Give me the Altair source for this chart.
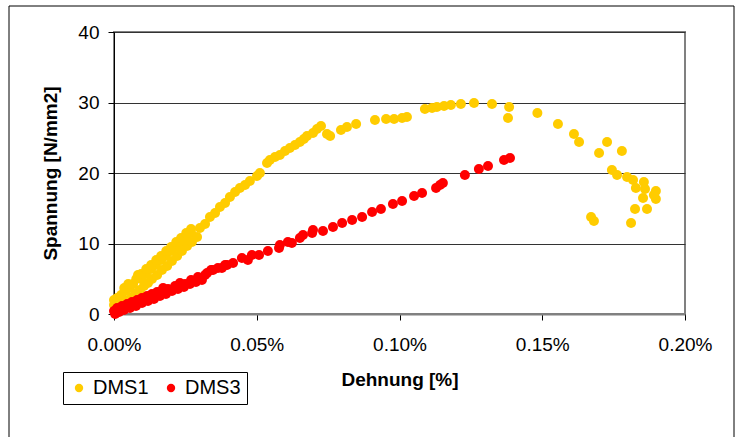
import altair as alt
import pandas as pd

# DMS1 (yellow) strain [%] and stress [N/mm2]
dms1_x = [0.0000, 0.0000, 0.0011, 0.0025, 0.0039, 0.0053, 0.0067, 0.0084, 0.0095, 0.0112,
          0.0130, 0.0147, 0.0165, 0.0182, 0.0200, 0.0217, 0.0235, 0.0252, 0.0270,
          0.0011, 0.0021, 0.0035, 0.0049, 0.0063, 0.0077, 0.0091, 0.0105, 0.0119, 0.0133,
          0.0151, 0.0168, 0.0186, 0.0203, 0.0221, 0.0238, 0.0256, 0.0273, 0.0291,
          0.0036, 0.0050, 0.0078, 0.0095, 0.0113, 0.0130, 0.0148, 0.0165, 0.0183, 0.0200,
          0.0218, 0.0235, 0.0253, 0.0270,
          0.0301, 0.0319, 0.0336, 0.0354, 0.0371, 0.0389, 0.0406, 0.0424, 0.0441, 0.0459,
          0.0476, 0.0501, 0.0511, 0.0536, 0.0546, 0.0564, 0.0581, 0.0599, 0.0616, 0.0634,
          0.0651, 0.0665, 0.0676, 0.0697, 0.0711, 0.0725, 0.0746, 0.0757, 0.0795, 0.0816,
          0.0848, 0.0914, 0.0953, 0.0981, 0.1009, 0.1026, 0.1089, 0.1114, 0.1131, 0.1156,
          0.1180, 0.1215, 0.1261, 0.1324, 0.1384, 0.1380, 0.1483, 0.1555, 0.1611, 0.1629,
          0.1699, 0.1727, 0.1779, 0.1744, 0.1762, 0.1797, 0.1818, 0.1828, 0.1856, 0.1860,
          0.1853, 0.1898, 0.1898, 0.1891, 0.1867, 0.1825, 0.1811, 0.1671, 0.1681]
dms1_y = [1.28, 1.99, 2.27, 2.70, 3.26, 3.69, 4.26, 5.53, 4.96, 5.67,
          6.38, 6.95, 7.66, 8.23, 8.94, 9.50, 10.21, 10.78, 11.49,
          0.57, 1.13, 1.56, 1.99, 2.41, 2.98, 3.40, 3.97, 4.40, 4.96,
          5.53, 6.24, 6.81, 7.52, 8.23, 8.94, 9.65, 10.21, 10.92,
          3.69, 4.26, 4.96, 5.67, 6.38, 6.95, 7.66, 8.23, 8.94, 9.50,
          10.21, 10.78, 11.49, 12.06,
          12.20, 12.77, 13.76, 14.33, 15.18, 15.74, 16.60, 17.30, 17.87, 18.30,
          18.86, 19.58, 20.00, 21.42, 21.84, 22.27, 22.55, 23.12, 23.55, 23.97,
          24.40, 24.82, 25.25, 25.67, 26.24, 26.67, 25.53, 25.25, 26.10, 26.52,
          26.95, 27.52, 27.66, 27.66, 27.80, 27.94, 29.08, 29.22, 29.36, 29.50,
          29.65, 29.79, 29.93, 29.79, 29.36, 27.80, 28.51, 26.95, 25.53, 24.40,
          22.84, 24.40, 23.12, 20.43, 19.72, 19.43, 19.01, 17.87, 18.72, 17.73,
          16.45, 17.45, 16.31, 16.88, 14.89, 14.89, 12.91, 13.76, 13.19]

# DMS3 (red)
dms3_x = [0.0000, 0.0011, 0.0028, 0.0046, 0.0063, 0.0081, 0.0098, 0.0116, 0.0133, 0.0151,
          0.0172, 0.0189, 0.0214, 0.0231, 0.0249, 0.0270, 0.0294, 0.0319, 0.0340, 0.0364, 0.0389,
          0.0004, 0.0018, 0.0035, 0.0056, 0.0077, 0.0098, 0.0119, 0.0140, 0.0161, 0.0182,
          0.0203, 0.0224, 0.0245, 0.0266, 0.0287, 0.0308,
          0.0326, 0.0347, 0.0378, 0.0396, 0.0417, 0.0448, 0.0469, 0.0483, 0.0508, 0.0539,
          0.0578, 0.0581, 0.0609, 0.0623, 0.0651, 0.0662, 0.0694, 0.0697, 0.0732, 0.0767,
          0.0799, 0.0834, 0.0869, 0.0904, 0.0935, 0.0977, 0.1009, 0.1051, 0.1079, 0.1128,
          0.1142, 0.1152, 0.1229, 0.1278, 0.1310, 0.1366, 0.1387]
dms3_y = [0.43, 0.85, 1.13, 1.42, 1.70, 1.99, 2.27, 2.55, 2.84, 3.12,
          3.69, 3.55, 3.97, 4.40, 4.26, 4.82, 5.25, 5.53, 6.24, 6.52, 6.95,
          0.00, 0.28, 0.57, 0.85, 1.13, 1.56, 1.84, 2.13, 2.55, 2.84,
          3.26, 3.55, 3.83, 4.26, 4.54, 4.82,
          5.82, 6.24, 6.52, 6.95, 7.23, 7.94, 7.66, 8.37, 8.37, 8.94,
          9.36, 9.79, 10.21, 10.07, 10.78, 11.21, 11.49, 11.91, 11.77, 12.34,
          12.91, 13.33, 13.76, 14.47, 14.89, 15.60, 16.03, 16.74, 17.16, 17.87,
          18.30, 18.58, 19.72, 20.57, 20.99, 21.84, 22.13]

series_names = ["DMS1", "DMS3"]
series_colors = ["#FFCC00", "#FF0000"]
x_ticks = [0.0, 0.05, 0.10, 0.15, 0.20]
y_ticks = [0, 10, 20, 30, 40]

df = pd.concat([
    pd.DataFrame({"x": dms1_x, "y": dms1_y, "s": series_names[0], "o": 0}),
    pd.DataFrame({"x": dms3_x, "y": dms3_y, "s": series_names[1], "o": 1}),
], ignore_index=True)

FONT = "Liberation Sans"

points = alt.Chart(df).mark_circle(size=100, opacity=1).encode(
    x=alt.X("x:Q", scale=alt.Scale(domain=[0, 0.2], nice=False),
            axis=alt.Axis(title="Dehnung [%]", values=x_ticks,
                          labelExpr="format(datum.value, '.2f') + '%'",
                          labelFlush=False, labelOverlap=False,
                          grid=False, domainColor="#808080", domainWidth=2,
                          tickColor="#000000", tickSize=6, labelPadding=15,
                          titlePadding=16,
                          labelFont=FONT, labelFontSize=19, labelColor="#000000",
                          titleFont=FONT, titleFontSize=19, titleFontWeight="bold",
                          titleColor="#000000")),
    y=alt.Y("y:Q", scale=alt.Scale(domain=[0, 40], nice=False),
            axis=alt.Axis(title="Spannung [N/mm2]", values=y_ticks,
                          labelFlush=False, labelOverlap=False,
                          grid=True, gridColor="#333333", gridWidth=1,
                          domainColor="#000000", domainWidth=1,
                          tickColor="#000000", tickSize=6, labelPadding=9,
                          titlePadding=17,
                          labelFont=FONT, labelFontSize=19, labelColor="#000000",
                          titleFont=FONT, titleFontSize=19, titleFontWeight="bold",
                          titleColor="#000000")),
    color=alt.Color("s:N", scale=alt.Scale(domain=series_names, range=series_colors),
                    legend=alt.Legend(title=None, orient="none", legendX=-51, legendY=340,
                                      direction="horizontal", symbolType="circle",
                                      symbolSize=70, symbolStrokeWidth=0,
                                      strokeColor="#000000", fillColor="#FFFFFF",
                                      padding=6, labelFontSize=20, labelFont=FONT,
                                      labelColor="#000000", labelOffset=4,
                                      columnPadding=12)),
    order="o:Q",
)

frame = alt.Chart(pd.DataFrame({"a": [0]})).mark_rect(
    fill="transparent", stroke="#000000", strokeWidth=1
).encode(
    x=alt.value(-105), x2=alt.value(620), y=alt.value(-26), y2=alt.value(410)
)

chart = alt.layer(frame, points).properties(
    width=571, height=282,
    autosize=alt.AutoSizeParams(type="none"),
    padding={"left": 114, "top": 32, "right": 50, "bottom": 123},
    background="#FFFFFF",
).configure_view(
    stroke="#808080", strokeWidth=2
)

chart.save("out.html", embed_options={"renderer": "svg", "actions": False})
